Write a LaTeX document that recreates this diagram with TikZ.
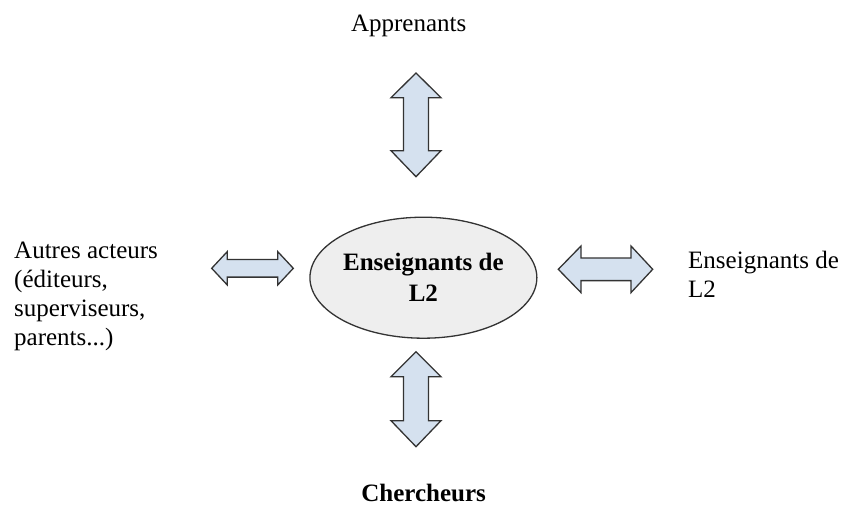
\documentclass[tikz,border=0pt]{standalone}
\usepackage{fontspec}
\setmainfont{Liberation Serif}
\usetikzlibrary{shapes.geometric}
\definecolor{arrowfill}{HTML}{D5E1EF}
\definecolor{ellfill}{HTML}{EEEEEE}
\definecolor{edge}{HTML}{333333}
\tikzset{
  blockarrow/.style={draw=edge, fill=arrowfill, line width=1.3pt, line join=miter},
  centre/.style={ellipse, draw=edge, fill=ellfill, line width=1.3pt, minimum width=205pt, minimum height=121pt, inner sep=0pt, align=center, font=\fontsize{25}{31}\selectfont\bfseries},
  label/.style={inner sep=0pt, font=\fontsize{25}{28.8}\selectfont, align=left}
}
% vertical double block arrow: cx, top tip, head base top, head base bottom, bottom tip, head half, shaft half
\newcommand{\vdblarrow}[7]{%
  \draw[blockarrow] (#1,#2) -- (#1+#6,#3) -- (#1+#7,#3) -- (#1+#7,#4) -- (#1+#6,#4) -- (#1,#5)
    -- (#1-#6,#4) -- (#1-#7,#4) -- (#1-#7,#3) -- (#1-#6,#3) -- cycle;}
% horizontal double block arrow: cy, left tip, head base left, head base right, right tip, head half, shaft half
\newcommand{\hdblarrow}[7]{%
  \draw[blockarrow] (#2,#1) -- (#3,#1-#6) -- (#3,#1-#7) -- (#4,#1-#7) -- (#4,#1-#6) -- (#5,#1)
    -- (#4,#1+#6) -- (#4,#1+#7) -- (#3,#1+#7) -- (#3,#1+#6) -- cycle;}
\begin{document}
\begin{tikzpicture}[x=1pt,y=-1pt]
\useasboundingbox (0,0) rectangle (848,508);
% block arrows
\vdblarrow{416}{73}{97.7}{150.7}{176.7}{25}{12.5}
\vdblarrow{416}{351.7}{376.7}{420.7}{446.7}{25}{12.5}
\hdblarrow{268.3}{211.7}{227.3}{277.7}{293.3}{16.7}{8.8}
\hdblarrow{269.3}{558.3}{581}{631}{652.7}{23.3}{11.3}
% centre
\node[centre] (c) at (423.4,277.7) {Enseignants de\\L2};
% labels
\node[label, anchor=base] (top) at (408.7,31.7) {Apprenants};
\node[label, anchor=base, font=\fontsize{25}{28.8}\selectfont\bfseries] (bottom) at (423.7,501) {Chercheurs};
\node[label, anchor=north west] (left) at (14,242) {Autres acteurs\\(éditeurs,\\superviseurs,\\parents...)};
\node[label, anchor=north west] (right) at (688,251) {Enseignants de\\L2};
\end{tikzpicture}
\end{document}
